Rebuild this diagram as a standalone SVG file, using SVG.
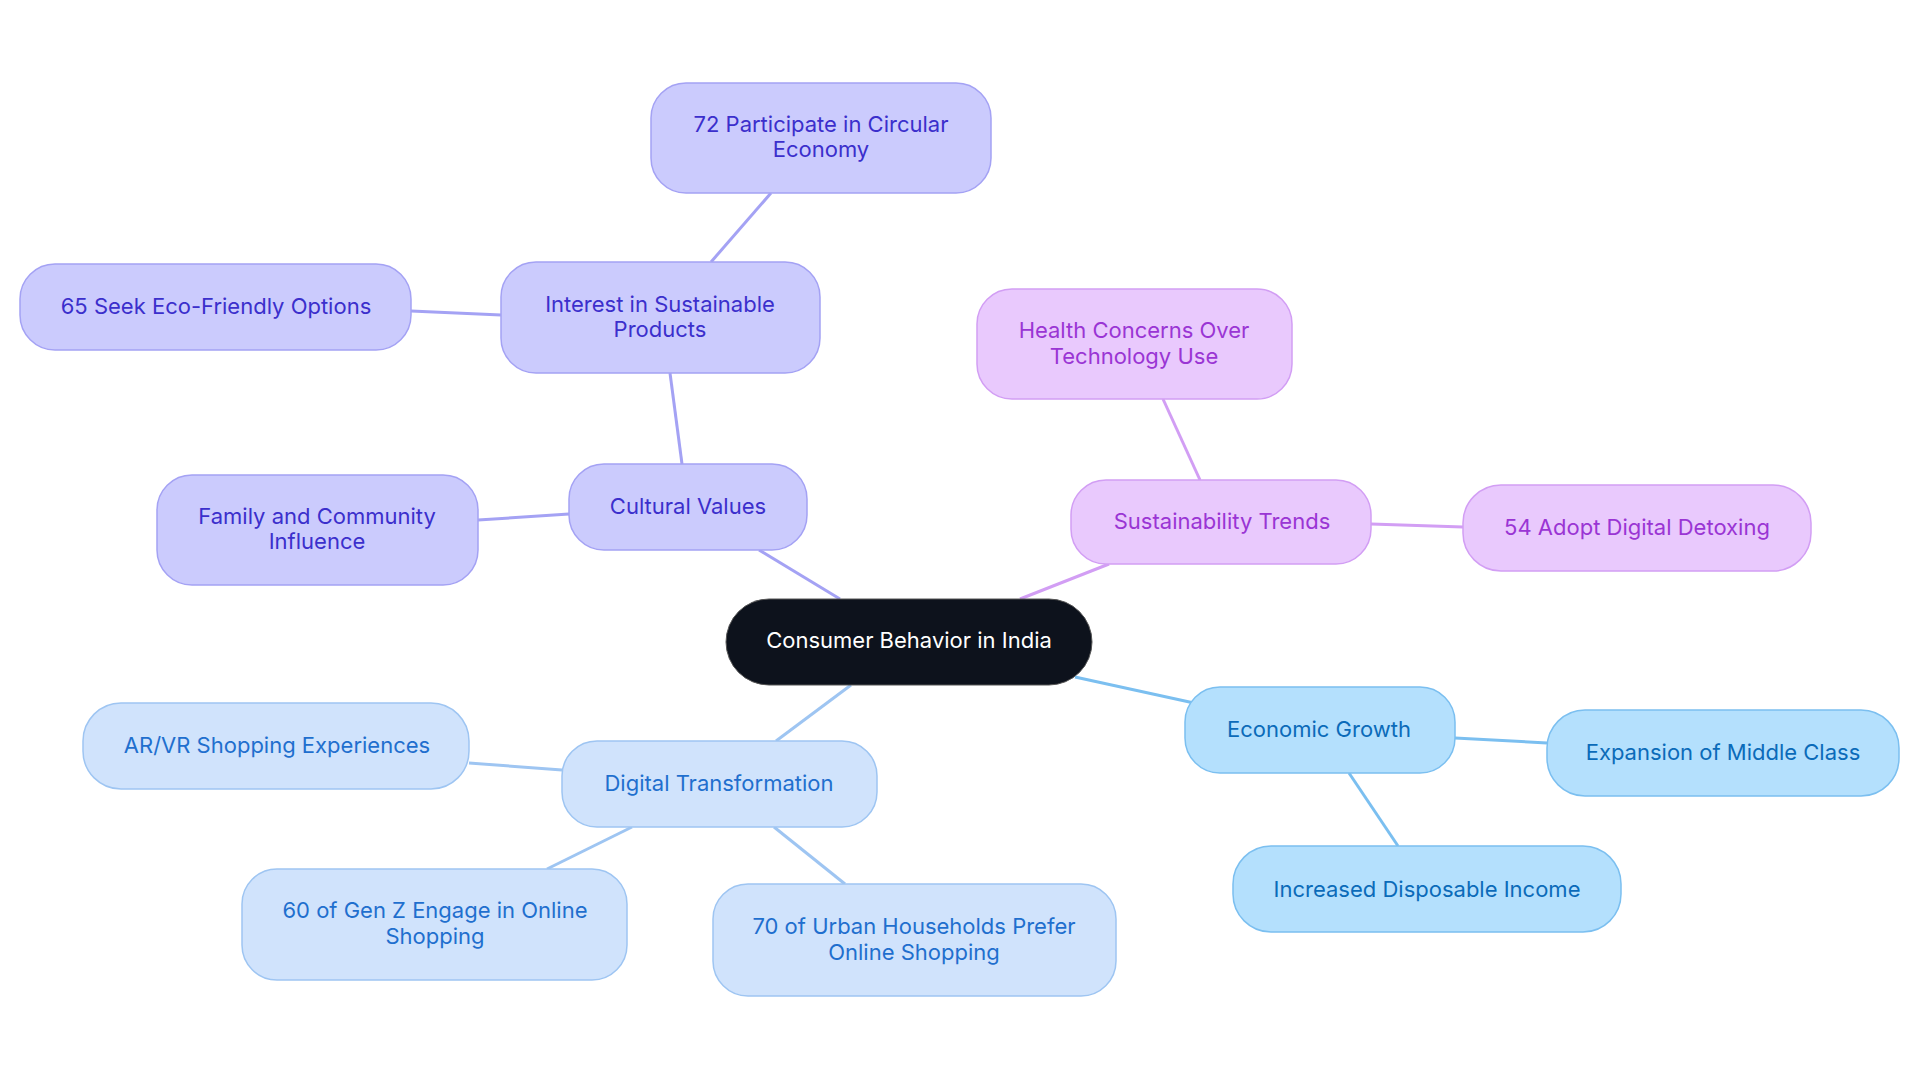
<svg xmlns="http://www.w3.org/2000/svg" width="1920" height="1083" viewBox="0 0 1920 1083">
<style>
text{font-family:Inter,"Noto Sans",sans-serif;font-size:22px;text-anchor:middle;dominant-baseline:central}
.p rect{fill:#cbcbfd;stroke:#a4a2f4;stroke-width:1.5}.p text{fill:#3b2fcc}
.v rect{fill:#e9c9fd;stroke:#d29ef4;stroke-width:1.5}.v text{fill:#9a35d4}
.d rect{fill:#d0e3fc;stroke:#9ec5f2;stroke-width:1.5}.d text{fill:#1f6fce}
.e rect{fill:#b4e0fd;stroke:#7bbff0;stroke-width:1.5}.e text{fill:#0b6bb9}
#edges line{stroke-width:3;fill:none}
</style>
<rect width="1920" height="1083" fill="#fff"/>
<g id="edges">
<line x1="840" y1="599" x2="759" y2="550" stroke="#a4a2f4"/>
<line x1="682" y1="464" x2="670" y2="373" stroke="#a4a2f4"/>
<line x1="711" y1="262" x2="771" y2="193" stroke="#a4a2f4"/>
<line x1="501" y1="315" x2="411" y2="311" stroke="#a4a2f4"/>
<line x1="569" y1="514" x2="478" y2="520" stroke="#a4a2f4"/>
<line x1="1020" y1="599" x2="1109" y2="564" stroke="#d29ef4"/>
<line x1="1200" y1="480" x2="1163" y2="399" stroke="#d29ef4"/>
<line x1="1371" y1="524" x2="1463" y2="527" stroke="#d29ef4"/>
<line x1="1075" y1="677" x2="1194" y2="703" stroke="#7bbff0"/>
<line x1="1455" y1="738" x2="1547" y2="743" stroke="#7bbff0"/>
<line x1="1349" y1="773" x2="1398" y2="846" stroke="#7bbff0"/>
<line x1="851" y1="685" x2="776" y2="741" stroke="#9ec5f2"/>
<line x1="562" y1="770" x2="469" y2="763" stroke="#9ec5f2"/>
<line x1="632" y1="827" x2="547" y2="869" stroke="#9ec5f2"/>
<line x1="774" y1="827" x2="845" y2="884" stroke="#9ec5f2"/>
</g>
<g id="root"><rect x="726" y="599" width="366" height="86" rx="43" fill="#0d121c" stroke="#555" stroke-width="1"/><text x="909" y="640" fill="#fff">Consumer Behavior in India</text></g>
<g id="cultural" class="p"><rect x="569" y="464" width="238" height="86" rx="35"/><text x="688" y="506">Cultural Values</text></g>
<g id="interest" class="p"><rect x="501" y="262" width="319" height="111" rx="35"/><text x="660" y="304">Interest in Sustainable</text><text x="660" y="329">Products</text></g>
<g id="circular" class="p"><rect x="651" y="83" width="340" height="110" rx="35"/><text x="821" y="124">72 Participate in Circular</text><text x="821" y="149">Economy</text></g>
<g id="eco" class="p"><rect x="20" y="264" width="391" height="86" rx="35"/><text x="216" y="306">65 Seek Eco-Friendly Options</text></g>
<g id="family" class="p"><rect x="157" y="475" width="321" height="110" rx="35"/><text x="317" y="516">Family and Community</text><text x="317" y="541">Influence</text></g>
<g id="sustain" class="v"><rect x="1071" y="480" width="300" height="84" rx="35"/><text x="1222" y="521">Sustainability Trends</text></g>
<g id="health" class="v"><rect x="977" y="289" width="315" height="110" rx="35"/><text x="1134" y="330">Health Concerns Over</text><text x="1134" y="356">Technology Use</text></g>
<g id="detox" class="v"><rect x="1463" y="485" width="348" height="86" rx="38"/><text x="1637" y="527">54 Adopt Digital Detoxing</text></g>
<g id="econ" class="e"><rect x="1185" y="687" width="270" height="86" rx="35"/><text x="1319" y="729">Economic Growth</text></g>
<g id="middle" class="e"><rect x="1547" y="710" width="352" height="86" rx="38"/><text x="1723" y="752">Expansion of Middle Class</text></g>
<g id="income" class="e"><rect x="1233" y="846" width="388" height="86" rx="38"/><text x="1427" y="889">Increased Disposable Income</text></g>
<g id="digital" class="d"><rect x="562" y="741" width="315" height="86" rx="35"/><text x="719" y="783">Digital Transformation</text></g>
<g id="arvr" class="d"><rect x="83" y="703" width="386" height="86" rx="38"/><text x="277" y="745">AR/VR Shopping Experiences</text></g>
<g id="genz" class="d"><rect x="242" y="869" width="385" height="111" rx="35"/><text x="435" y="910">60 of Gen Z Engage in Online</text><text x="435" y="936">Shopping</text></g>
<g id="urban" class="d"><rect x="713" y="884" width="403" height="112" rx="35"/><text x="914" y="926">70 of Urban Households Prefer</text><text x="914" y="952">Online Shopping</text></g>
</svg>
